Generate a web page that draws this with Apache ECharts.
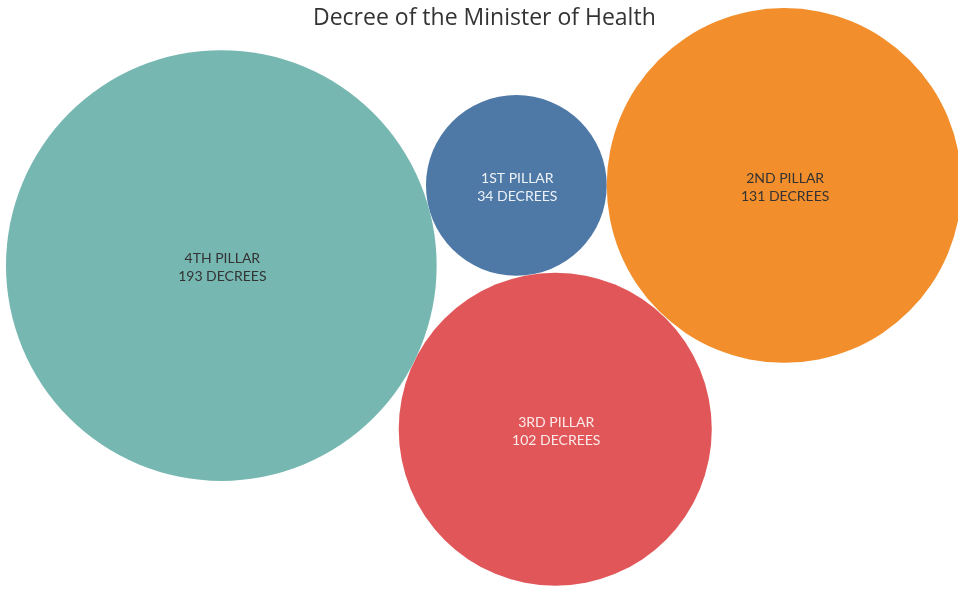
<!DOCTYPE html>
<html>
<head>
<meta charset="utf-8">
<script src="https://cdn.jsdelivr.net/npm/echarts@6/dist/echarts.min.js"></script>
<style>
  html, body { margin: 0; padding: 0; background: #fff; }
  #chart { width: 958px; height: 589px; }
</style>
</head>
<body>
<div id="chart"></div>
<script>
// Decrees per pillar
const pillars = ['1ST PILLAR', '2ND PILLAR', '3RD PILLAR', '4TH PILLAR'];
const decrees = [34, 131, 102, 193];
const colors = ['#4e79a7', '#f28e2b', '#e15759', '#76b7b2'];
const labelColors = ['#eef2f7', '#333333', '#fbeaea', '#333333'];

// Bubble radius (px) grows with the square root of the count
const K = 15.5;
const radius = v => K * Math.sqrt(v);

// Packed layout built from tangency rules
function packLayout() {
  const r = decrees.map(radius);
  const pos = [];
  // 4th pillar anchored at origin (y grows downward)
  pos[3] = [0, 0];
  // 1st pillar touching the 4th, slightly raised
  const a = -15.2 * Math.PI / 180;
  const d13 = r[3] + r[0];
  pos[0] = [pos[3][0] + d13 * Math.cos(a), pos[3][1] + d13 * Math.sin(a)];
  // 2nd pillar touching the 1st on its right
  pos[1] = [pos[0][0] + r[0] + r[1], pos[0][1]];
  // 3rd pillar touching both the 4th and the 1st, below them
  const p = pos[3], q = pos[0];
  const R1 = r[3] + r[2], R2 = r[0] + r[2];
  const dx = q[0] - p[0], dy = q[1] - p[1];
  const d = Math.hypot(dx, dy);
  const l = (R1 * R1 - R2 * R2 + d * d) / (2 * d);
  const h = Math.sqrt(Math.max(0, R1 * R1 - l * l));
  const mx = p[0] + l * dx / d, my = p[1] + l * dy / d;
  pos[2] = [mx - h * dy / d, my + h * dx / d];
  return { pos, r };
}

const { pos, r } = packLayout();
const minX = Math.min(...pos.map((c, i) => c[0] - r[i]));
const minY = Math.min(...pos.map((c, i) => c[1] - r[i]));
const W = 958, H = 589;
const xMin = minX - 6, yMin = minY - 8;

const data = pillars.map((name, i) => ({
  name,
  value: [pos[i][0], pos[i][1], decrees[i]],
  symbolSize: 2 * r[i],
  itemStyle: { color: colors[i], opacity: 1 },
  label: { color: labelColors[i] }
}));

const chart = echarts.init(document.getElementById('chart'), null, { renderer: 'canvas' });
chart.setOption({
  animation: false,
  backgroundColor: '#ffffff',
  title: {
    text: 'Decree of the Minister of Health',
    left: 308,
    top: 2,
    textStyle: {
      fontFamily: 'Open Sans',
      fontSize: 23,
      fontWeight: 'normal',
      color: '#333333'
    }
  },
  grid: { left: 0, top: 0, width: W, height: H, containLabel: false },
  xAxis: { type: 'value', min: xMin, max: xMin + W, show: false },
  yAxis: { type: 'value', min: yMin, max: yMin + H, inverse: true, show: false },
  series: [{
    type: 'scatter',
    data,
    z: 1,
    label: {
      show: true,
      position: 'inside',
      offset: [1, 2],
      fontFamily: 'Lato',
      fontSize: 14,
      lineHeight: 18,
      formatter: p => p.name + '\n' + p.value[2] + ' DECREES'
    },
    emphasis: { disabled: true }
  }]
});
</script>
</body>
</html>
